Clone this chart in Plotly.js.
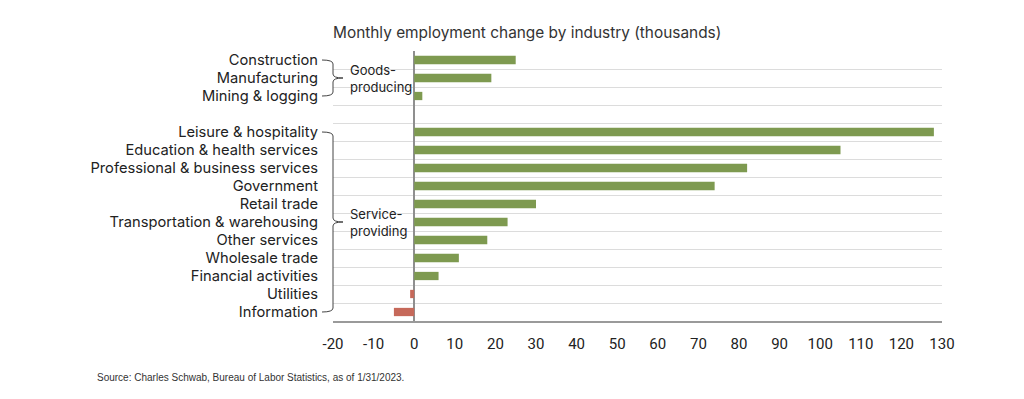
<!DOCTYPE html>
<html>
<head>
<meta charset="utf-8">
<script src="https://cdn.plot.ly/plotly-3.0.1.min.js"></script>
<style>html,body{margin:0;padding:0;background:#fff;}#chart{width:1024px;height:399px;}</style>
</head>
<body>
<div id="chart"></div>
<script>
// ---- data ----
const goodsCategories = ["Construction", "Manufacturing", "Mining & logging"];
const goodsValues = [25, 19, 2];
const serviceCategories = ["Leisure & hospitality", "Education & health services", "Professional & business services",
  "Government", "Retail trade", "Transportation & warehousing", "Other services", "Wholesale trade",
  "Financial activities", "Utilities", "Information"];
const serviceValues = [128, 105, 82, 74, 30, 23, 18, 11, 6, -1, -5];
const xTickValues = [-20, -10, 0, 10, 20, 30, 40, 50, 60, 70, 80, 90, 100, 110, 120, 130];
const groupLabels = ["Goods-<br>producing", "Service-<br>providing"];
const titleText = "Monthly employment change by industry (thousands)";
const sourceText = "Source: Charles Schwab, Bureau of Labor Statistics, as of 1/31/2023.";

const GREEN = "#7e9a50", RED = "#c6695a";
const LABEL_FONT = "Inter, Roboto, sans-serif";
const gap = " ";
const categories = goodsCategories.concat([gap], serviceCategories);
const allCats = goodsCategories.concat(serviceCategories);
const allVals = goodsValues.concat(serviceValues);

const trace = {
  type: "bar", orientation: "h",
  y: allCats, x: allVals,
  width: 0.46,
  marker: {color: allVals.map(v => v < 0 ? RED : GREEN), line: {width: 0}},
  hoverinfo: "x+y"
};

// brace helper (x in paper units, y in category index)
const L = 0, px = 1 / 609;
function brace(i0, i1) {
  const mid = (i0 + i1) / 2, c = 0.22;
  const xl = L - 11 * px, xv = L, xt = L + 10 * px;
  return {
    type: "path", xref: "paper", yref: "y",
    line: {color: "#444", width: 1},
    path: `M${xl},${i0} Q${xv},${i0} ${xv},${i0 + c} L${xv},${mid - c} Q${xv},${mid} ${xt},${mid} ` +
          `M${xt},${mid} Q${xv},${mid} ${xv},${mid + c} L${xv},${i1 - c} Q${xv},${i1} ${xl},${i1}`
  };
}
const gStart = 0, gEnd = goodsCategories.length - 1;
const sStart = goodsCategories.length + 1, sEnd = categories.length - 1;

const layout = {
  width: 1024, height: 399,
  margin: {l: 333, r: 82, t: 51, b: 78},
  paper_bgcolor: "#fff", plot_bgcolor: "#fff",
  showlegend: false,
  font: {family: LABEL_FONT, color: "#222"},
  title: {text: titleText, x: 0, xref: "paper", xanchor: "left", y: 1 - 33 / 399, yref: "container", yanchor: "middle",
          font: {size: 15.4, color: "#333", family: LABEL_FONT}},
  xaxis: {
    range: [-20, 130], tickvals: xTickValues, ticktext: xTickValues.map(String),
    showgrid: false, zeroline: true, zerolinecolor: "#8f8f8f", zerolinewidth: 2,
    showline: true, linecolor: "#9a9a9a", linewidth: 2,
    ticks: "", ticklabelstandoff: 8,
    tickfont: {size: 15, color: "#222", family: "Roboto, sans-serif"},
    fixedrange: true
  },
  yaxis: {
    type: "category", categoryorder: "array", categoryarray: categories,
    autorange: "reversed", range: [categories.length - 0.5, -0.5],
    tickson: "boundaries", showgrid: true, gridcolor: "#dcdcdc", gridwidth: 1,
    ticks: "", ticklabelstandoff: 14,
    tickfont: {size: 14.7, color: "#222", family: LABEL_FONT},
    showline: false, zeroline: false, fixedrange: true
  },
  shapes: [brace(gStart, gEnd), brace(sStart, sEnd)],
  annotations: [
    {text: groupLabels[0], xref: "paper", yref: "y", x: 15 * px, y: (gStart + gEnd) / 2, xanchor: "left", yanchor: "middle",
     showarrow: false, align: "left", font: {size: 13, color: "#222", family: LABEL_FONT}},
    {text: groupLabels[1], xref: "paper", yref: "y", x: 15 * px, y: (sStart + sEnd) / 2, xanchor: "left", yanchor: "middle",
     showarrow: false, align: "left", font: {size: 13, color: "#222", family: LABEL_FONT}},
    {text: sourceText, xref: "paper", yref: "paper", x: (95 - 333) * px, y: 0, yshift: -56, xanchor: "left", yanchor: "middle",
     showarrow: false, font: {size: 10, color: "#333", family: "'Liberation Sans', Arial, sans-serif"}}
  ]
};

Plotly.newPlot("chart", [trace], layout, {displayModeBar: false, staticPlot: true});
</script>
</body>
</html>
